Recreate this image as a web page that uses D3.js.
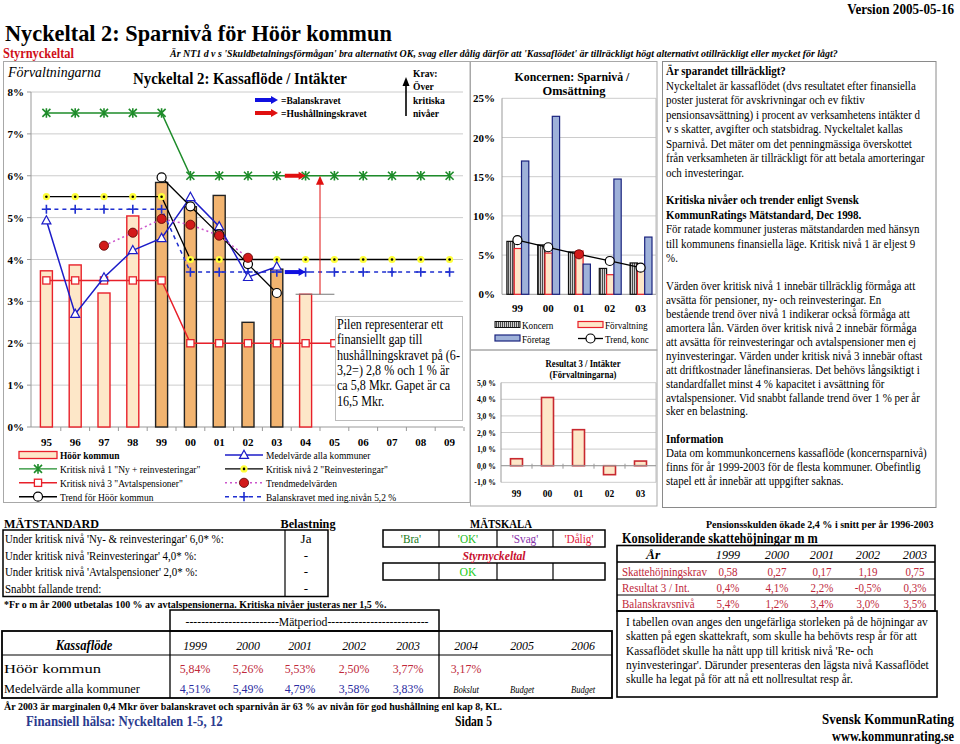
<!DOCTYPE html>
<html><head><meta charset="utf-8">
<script src="https://cdn.jsdelivr.net/npm/d3@7/dist/d3.min.js"></script>
<style>
body{margin:0;background:#fff;}
svg text{font-family:"Liberation Serif","Times New Roman",serif;}
</style></head><body>
<svg id="c" width="960" height="744"></svg>
<script>
// ---------------- DATA ----------------
const years = ["95","96","97","98","99","00","01","02","03","04","05","06","07","08","09"];
const hoorYears = ["95","96","97","98","99","00","01","02","03","04"];
const hoorValues = [3.73,3.87,3.20,5.04,5.84,5.26,5.53,2.50,3.77,3.17];
const hoorMeasuredYears = ["99","00","01","02","03"];
const medelYears = ["95","96","97","98","99","00","01","02","03"];
const medelValues = [4.93,2.70,3.57,4.22,4.51,5.49,4.79,3.58,3.83];
const krit1Values = [7.5,7.5,7.5,7.5,7.5,6,6,6,6,6,6,6,6,6,6];
const krit2Values = [5.5,5.5,5.5,5.5,5.5,4,4,4,4,4,4,4,4,4,4];
const krit3Values = [3.5,3.5,3.5,3.5,3.5,2,2,2,2,2,2,2,2,2,2];
const balansValues = [5.2,5.2,5.2,5.2,5.2,3.7,3.7,3.7,3.7,3.7,3.7,3.7,3.7,3.7,3.7];
const trendMedelYears = ["97","98","99","00","01","02"];
const trendMedelValues = [4.33,4.64,4.97,4.83,4.57,4.04];
const trendHoorYears = ["99","00","01","02","03"];
const trendHoorValues = [5.96,5.27,4.60,3.89,3.20];
const gapTarget = 6.0, gapFrom = 3.17;
const mainYTicks = [0,1,2,3,4,5,6,7,8];

const koncYears = ["99","00","01","02","03"];
const koncernValues = [6.75,6.30,5.40,3.30,4.00];
const forvaltningValues = [5.84,5.26,5.53,2.50,3.77];
const foretagValues = [17.0,22.7,3.85,14.7,7.3];
const trendKoncValues = [6.9,6.0,5.1,4.25,3.4];
const koncYTicks = [0,5,10,15,20,25];

const res3Values = [0.42,4.11,2.17,-0.54,0.28];
const res3YTicks = [-1,0,1,2,3,4,5];

const matstandardRows = ["Under kritisk nivå 'Ny- & reinvesteringar' 6,0* %:","Under kritisk nivå 'Reinvesteringar' 4,0* %:","Under kritisk nivå 'Avtalspensioner' 2,0* %:","Snabbt fallande trend:"];
const belastning = ["Ja","-","-","-"];
const matskala = ["'Bra'","'OK'","'Svag'","'Dålig'"];
const styrResult = ["","OK","",""];

const kassaYears = ["1999","2000","2001","2002","2003","2004","2005","2006"];
const hoorRow = ["5,84%","5,26%","5,53%","2,50%","3,77%","3,17%"];
const medelRow = ["4,51%","5,49%","4,79%","3,58%","3,83%"];
const kassaNotes = ["","","","","","Bokslut","Budget","Budget"];

const skatteYears = ["1999","2000","2001","2002","2003"];
const skattekrav = ["0,58","0,27","0,17","1,19","0,75"];
const res3Int = ["0,4%","4,1%","2,2%","-0,5%","0,3%"];
const balanskravsniva = ["5,4%","1,2%","3,4%","3,0%","3,5%"];

const rightBlocks = [
 {bold:1, lines:["Är sparandet tillräckligt?","Nyckeltalet är kassaflödet (dvs resultatet efter finansiella","poster justerat för avskrivningar och ev fiktiv","pensionsavsättning) i procent av verksamhetens intäkter d","v s skatter, avgifter och statsbidrag. Nyckeltalet kallas","Sparnivå. Det mäter om det penningmässiga överskottet","från verksamheten är tillräckligt för att betala amorteringar","och investeringar."]},
 {bold:2, lines:["Kritiska nivåer och trender enligt Svensk","KommunRatings Mätstandard, Dec 1998.","För ratade kommuner justeras mätstandarden med hänsyn","till kommunens finansiella läge. Kritisk nivå 1 är eljest 9","%."]},
 {bold:0, lines:["Värden över kritisk nivå 1 innebär tillräcklig förmåga att","avsätta för pensioner, ny- och reinvesteringar. En","bestående trend över nivå 1 indikerar också förmåga att","amortera lån. Värden över kritisk nivå 2 innebär förmåga","att avsätta för reinvesteringar och avtalspensioner men ej","nyinvesteringar. Värden under kritisk nivå 3 innebär oftast","att driftkostnader lånefinansieras. Det behövs långsiktigt i","standardfallet minst 4 % kapacitet i avsättning för","avtalspensioner. Vid snabbt fallande trend över 1 % per år","sker en belastning."]},
 {bold:1, lines:["Information","Data om kommunkoncernens kassaflöde (koncernsparnivå)","finns för år 1999-2003 för de flesta kommuner. Obefintlig","stapel ett år innebär att uppgifter saknas."]}
];
const pilenLines = ["Pilen representerar ett","finansiellt gap till","hushållningskravet på (6-","3,2=) 2,8 % och 1  % är","ca 5,8 Mkr. Gapet är ca","16,5 Mkr."];
const skatteNoteLines = ["I tabellen ovan anges den ungefärliga storleken på de höjningar av","skatten på egen skattekraft, som skulle ha behövts resp år för att","Kassaflödet skulle ha nått upp till  kritisk nivå 'Re- och","nyinvesteringar'. Därunder presenteras den lägsta nivå Kassaflödet","skulle ha legat på för att nå ett nollresultat resp år."];

// ---------------- HELPERS ----------------
const svg = d3.select('#c');
const defs = svg.append('defs');
const F = 0.87;
// text is squeezed horizontally with a transform so its box matches what is drawn
function txt(g, x, y, s, o={}){
  const t = g.append('text').attr('x',0).attr('y',0).text(s)
    .attr('font-size', o.size||12)
    .attr('fill', o.fill||'#000')
    .attr('text-anchor', o.anchor||'start');
  if(o.bold) t.attr('font-weight','bold');
  if(o.italic) t.attr('font-style','italic');
  if(o.family) t.attr('font-family', o.family);
  const w = t.node().getComputedTextLength();
  let sx = o.w ? o.w/w : (o.f||F);
  if(o.maxW && w*sx > o.maxW) sx = o.maxW/w;
  t.attr('transform', `translate(${x},${y}) scale(${sx},1)`);
  return t;
}
function natW(g, s, size, bold){
  const t = g.append('text').attr('font-size',size).attr('font-weight',bold?'bold':null).text(s);
  const w = t.node().getComputedTextLength(); t.remove(); return w;
}
function marker(g, type, px, py){
  switch(type){
    case 'ast': g.append('path').attr('d',`M${px-4},${py-4}L${px+4},${py+4}M${px-4},${py+4}L${px+4},${py-4}M${px},${py-4.8}V${py+4.8}`).attr('stroke','#1E8C2A').attr('stroke-width',1.6).attr('fill','none'); break;
    case 'dotY': g.append('circle').attr('cx',px).attr('cy',py).attr('r',3.6).attr('fill','#FFFF3A');
                 g.append('circle').attr('cx',px).attr('cy',py).attr('r',1.3).attr('fill','#000'); break;
    case 'sq': g.append('rect').attr('x',px-3.6).attr('y',py-3.6).attr('width',7.2).attr('height',7.2).attr('fill','#fff').attr('stroke','#E8202A').attr('stroke-width',1.3); break;
    case 'tri': g.append('path').attr('d',`M${px},${py-4.8}L${px+4.5},${py+3.4}L${px-4.5},${py+3.4}Z`).attr('fill','#fff').attr('stroke','#1C1CC8').attr('stroke-width',1.2); break;
    case 'redDot': g.append('circle').attr('cx',px).attr('cy',py).attr('r',4.6).attr('fill','#D21A1A').attr('stroke','#5a0000').attr('stroke-width',0.8); break;
    case 'openC': g.append('circle').attr('cx',px).attr('cy',py).attr('r',4.5).attr('fill','#fff').attr('stroke','#000').attr('stroke-width',1.2); break;
    case 'plus': g.append('path').attr('d',`M${px-4.6},${py}H${px+4.6}M${px},${py-4.6}V${py+4.6}`).attr('stroke','#1F2FD0').attr('stroke-width',1.6); break;
  }
}
function arrowH(g, x1, x2, yy, color, w){
  g.append('line').attr('x1',x1).attr('x2',x2-6).attr('y1',yy).attr('y2',yy).attr('stroke',color).attr('stroke-width',w);
  g.append('path').attr('d',`M${x2-7},${yy-4}L${x2},${yy}L${x2-7},${yy+4}Z`).attr('fill',color);
}
const LIGHT='#FDE7C8', DARK='#F2B470', RED='#E8202A';

// ---------------- HEADER ----------------
txt(svg,5,41,"Nyckeltal 2: Sparnivå för Höör kommun",{size:24,bold:true,w:387});
txt(svg,954,14,"Version 2005-05-16",{size:14,bold:true,anchor:'end',w:107});
txt(svg,3,58,"Styrnyckeltal",{size:14,bold:true,fill:'#D0101A',w:71});
txt(svg,170,57,"Är NT1 d v s 'Skuldbetalningsförmågan' bra alternativt OK, svag eller dålig därför att 'Kassaflödet' är tillräckligt högt alternativt otillräckligt eller mycket för lågt?",{size:10.5,bold:true,italic:true,w:668});

// frames
const frames = svg.append('g').attr('fill','none').attr('stroke','#a8a8a8');
frames.append('rect').attr('x',3.5).attr('y',61.5).attr('width',466.5).attr('height',441);
frames.append('rect').attr('x',470.5).attr('y',61.5).attr('width',186.5).attr('height',288.5);
frames.append('rect').attr('x',470.5).attr('y',350).attr('width',186.5).attr('height',156);
svg.append('rect').attr('x',662.5).attr('y',61.5).attr('width',273.5).attr('height',446).attr('fill','none').attr('stroke','#8a8a8a');

// ---------------- MAIN CHART ----------------
const gm = svg.append('g');
const x = d3.scaleBand().domain(years).range([32,464]);
const cx = d => x(d) + x.bandwidth()/2;
const y = d3.scaleLinear().domain([0,8]).range([427,92]);

txt(gm,8,77,"Förvaltningarna",{size:14,italic:true,family:'"Liberation Sans",Arial,sans-serif',w:93});
txt(gm,133,84,"Nyckeltal 2: Kassaflöde / Intäkter",{size:17,bold:true,w:214});

mainYTicks.forEach(v=>{
  gm.append('line').attr('x1',31).attr('x2',463).attr('y1',y(v)).attr('y2',y(v)).attr('stroke', v===0?'#999':'#cccccc');
  gm.append('line').attr('x1',27).attr('x2',31).attr('y1',y(v)).attr('y2',y(v)).attr('stroke','#999');
  txt(gm,24,y(v)+4,v+"%",{size:11,bold:true,anchor:'end',f:1});
});
gm.append('line').attr('x1',31).attr('x2',31).attr('y1',y(0)).attr('y2',y(8)).attr('stroke','#999');
years.forEach((d,i)=>{
  gm.append('line').attr('x1',x(d)+x.bandwidth()).attr('x2',x(d)+x.bandwidth()).attr('y1',y(0)).attr('y2',y(0)+4).attr('stroke','#999');
  txt(gm,cx(d),446,d,{size:11,bold:true,anchor:'middle',f:1});
});

// bars
const bw = 12;
gm.selectAll('rect.hb').data(hoorYears.map((d,i)=>({yr:d,v:hoorValues[i]}))).join('rect')
  .attr('x',d=>cx(d.yr)-bw/2).attr('width',bw).attr('y',d=>y(d.v)).attr('height',d=>y(0)-y(d.v))
  .attr('fill',d=>hoorMeasuredYears.includes(d.yr)?DARK:LIGHT)
  .attr('stroke',d=>hoorMeasuredYears.includes(d.yr)?'#222':RED).attr('stroke-width',1.4);

const line = d3.line().x(d=>cx(d.yr)).y(d=>y(d.v));
const series = [
  {yrs:years, vals:krit3Values, color:RED, w:1.5, dash:null, m:'sq'},
  {yrs:years, vals:krit2Values, color:'#000', w:1.3, dash:null, m:'dotY'},
  {yrs:years, vals:krit1Values, color:'#1E8C2A', w:1.5, dash:null, m:'ast'},
  {yrs:years, vals:balansValues, color:'#1F2FD0', w:1.5, dash:'4,4', m:'plus'},
  {yrs:medelYears, vals:medelValues, color:'#1C1CC8', w:1.5, dash:null, m:'tri'},
  {yrs:trendHoorYears, vals:trendHoorValues, color:'#000', w:1.3, dash:null, m:'openC'},
  {yrs:trendMedelYears, vals:trendMedelValues, color:'#CC55CC', w:1.5, dash:'2,3', m:'redDot'}
];
series.forEach(s=>{
  const pts = s.yrs.map((d,i)=>({yr:d,v:s.vals[i]}));
  gm.append('path').attr('d',line(pts)).attr('fill','none').attr('stroke',s.color).attr('stroke-width',s.w).attr('stroke-dasharray',s.dash);
  pts.forEach(p=>marker(gm,s.m,cx(p.yr),y(p.v)));
});

// annotations
arrowH(gm, cx("03")+8, cx("04"), y(krit1Values[9]), '#E01010', 4);
arrowH(gm, cx("03")+8, cx("04"), y(balansValues[9]), '#1010E0', 4);
const gx = x("04")+x.bandwidth();
gm.append('line').attr('x1',cx("04")-10).attr('x2',cx("05")).attr('y1',y(gapFrom)).attr('y2',y(gapFrom)).attr('stroke','#777').attr('stroke-width',1.2);
gm.append('line').attr('x1',gx).attr('x2',gx).attr('y1',y(gapFrom)).attr('y2',y(gapTarget)+8).attr('stroke','#E01010').attr('stroke-width',1);
gm.append('path').attr('d',`M${gx-4},${y(gapTarget)+9}L${gx},${y(gapTarget)}L${gx+4},${y(gapTarget)+9}Z`).attr('fill','#E01010');

// top legend arrows
arrowH(gm,255,278,100,'#1010E0',4);
arrowH(gm,255,278,113,'#E01010',4);
txt(gm,281,104,"=Balanskravet",{size:11,bold:true});
txt(gm,281,117,"=Hushållningskravet",{size:11,bold:true});
// Krav
gm.append('line').attr('x1',406).attr('x2',406).attr('y1',116).attr('y2',84).attr('stroke','#000').attr('stroke-width',1.6);
gm.append('path').attr('d','M402.5,86L406,77L409.5,86Z').attr('fill','#000');
["Krav:","Över","kritiska","nivåer"].forEach((s,i)=>txt(gm,413,77+i*13.3,s,{size:11,bold:true}));

// Pilen box
gm.append('rect').attr('x',335.5).attr('y',316.5).attr('width',127).attr('height',104).attr('fill','#fff').attr('stroke','#bbb');
{
  const wmax = natW(gm,"hushållningskravet på (6-",14,false);
  const f = 123/wmax;
  pilenLines.forEach((s,i)=>txt(gm,337,329+i*15.3,s,{size:14,f:f}));
}

// bottom legend
const legItems = [
  {col:0,row:0,label:"Höör kommun",bold:true,type:'bar'},
  {col:1,row:0,label:"Medelvärde alla kommuner",color:'#1C1CC8',m:'tri'},
  {col:0,row:1,label:"Kritisk nivå 1 \"Ny + reinvesteringar\"",color:'#1E8C2A',m:'ast'},
  {col:1,row:1,label:"Kritisk nivå 2 \"Reinvesteringar\"",color:'#000',m:'dotY'},
  {col:0,row:2,label:"Kritisk nivå 3 \"Avtalspensioner\"",color:RED,m:'sq'},
  {col:1,row:2,label:"Trendmedelvärden",color:'#CC55CC',dash:'2,3',m:'redDot'},
  {col:0,row:3,label:"Trend för Höör kommun",color:'#000',m:'openC'},
  {col:1,row:3,label:"Balanskravet med ing.nivån 5,2 %",color:'#1F2FD0',dash:'4,4',m:'plus'}
];
legItems.forEach(it=>{
  const x0 = it.col===0?19:225, yy = 455+it.row*13.9;
  if(it.type==='bar'){
    gm.append('rect').attr('x',x0).attr('y',yy-3.5).attr('width',38).attr('height',7).attr('fill',LIGHT).attr('stroke',RED).attr('stroke-width',1.3);
  } else {
    gm.append('line').attr('x1',x0).attr('x2',x0+38).attr('y1',yy).attr('y2',yy).attr('stroke',it.color).attr('stroke-width',1.4).attr('stroke-dasharray',it.dash||null);
    marker(gm,it.m,x0+19,yy);
  }
  txt(gm,x0+41,yy+3.8,it.label,{size:11,bold:it.bold,f:0.86});
});

// ---------------- KONCERN CHART ----------------
const gk = svg.append('g');
const xk = d3.scaleBand().domain(koncYears).range([502,656]);
const ck = d => xk(d)+xk.bandwidth()/2;
const yk = d3.scaleLinear().domain([0,25]).range([294.3,98.3]);
txt(gk,572,81,"Koncernen: Sparnivå /",{size:13,bold:true,anchor:'middle',w:115});
txt(gk,574,95,"Omsättning",{size:13,bold:true,anchor:'middle',w:63});
koncYTicks.forEach(v=>{
  gk.append('line').attr('x1',502).attr('x2',656).attr('y1',yk(v)).attr('y2',yk(v)).attr('stroke',v===0?'#999':'#cccccc');
  txt(gk,495,yk(v)+4,v+"%",{size:11,bold:true,anchor:'end',f:1});
});
gk.append('line').attr('x1',502).attr('x2',502).attr('y1',yk(0)).attr('y2',yk(25)).attr('stroke','#999');
gk.append('line').attr('x1',656).attr('x2',656).attr('y1',yk(0)).attr('y2',yk(25)).attr('stroke','#bbb');
const pat = defs.append('pattern').attr('id','stripe').attr('patternUnits','userSpaceOnUse').attr('width',2).attr('height',4);
pat.append('rect').attr('width',2).attr('height',4).attr('fill','#cfcfcf');
pat.append('rect').attr('width',1).attr('height',4).attr('fill','#4a4a4a');
const kb = 7.3;
const koncSeries = [
  {vals:koncernValues, fill:'url(#stripe)', stroke:'#111'},
  {vals:forvaltningValues, fill:LIGHT, stroke:RED},
  {vals:foretagValues, fill:'#9EB1D9', stroke:'#1A237E'}
];
koncSeries.forEach((s,si)=>{
  gk.selectAll(null).data(koncYears.map((d,i)=>({yr:d,v:s.vals[i]}))).join('rect')
    .attr('x',d=>ck(d.yr)-10.5+si*kb).attr('width',kb).attr('y',d=>yk(d.v)).attr('height',d=>yk(0)-yk(d.v))
    .attr('fill',s.fill).attr('stroke',s.stroke).attr('stroke-width',1.2);
});
koncYears.forEach(d=>txt(gk,ck(d),312,d,{size:11,bold:true,anchor:'middle',f:1}));
const tk = koncYears.map((d,i)=>({yr:d,v:trendKoncValues[i]}));
gk.append('path').attr('d',d3.line().x(d=>ck(d.yr)).y(d=>yk(d.v))(tk)).attr('fill','none').attr('stroke','#000').attr('stroke-width',1.3);
tk.forEach(p=>{ if(p.yr==="01") marker(gk,'redDot',ck(p.yr),yk(p.v)); else marker(gk,'openC',ck(p.yr),yk(p.v)); });
// legend
gk.append('rect').attr('x',495).attr('y',321.5).attr('width',25).attr('height',6).attr('fill','url(#stripe)').attr('stroke','#111');
txt(gk,522,329,"Koncern",{size:10.5});
gk.append('rect').attr('x',578).attr('y',321.5).attr('width',25).attr('height',6).attr('fill',LIGHT).attr('stroke',RED).attr('stroke-width',1.2);
txt(gk,605,329,"Förvaltning",{size:10.5});
gk.append('rect').attr('x',495).attr('y',335).attr('width',25).attr('height',6).attr('fill','#9EB1D9').attr('stroke','#1A237E').attr('stroke-width',1.2);
txt(gk,522,343,"Företag",{size:10.5});
gk.append('line').attr('x1',578).attr('x2',603).attr('y1',338.5).attr('y2',338.5).attr('stroke','#000').attr('stroke-width',1.3);
marker(gk,'openC',590.5,338.5);
txt(gk,605,343,"Trend, konc",{size:10.5});

// ---------------- RESULTAT 3 CHART ----------------
const gr = svg.append('g');
const xr = d3.scaleBand().domain(koncYears).range([501,656]);
const cr = d => xr(d)+xr.bandwidth()/2;
const yr = d3.scaleLinear().domain([-1,5]).range([482.3,382.7]);
txt(gr,583,367,"Resultat 3 / Intäkter",{size:10,bold:true,anchor:'middle',w:75});
txt(gr,583,378,"(Förvaltningarna)",{size:10,bold:true,anchor:'middle',w:67});
const fmt1 = v => d3.format(".1f")(v).replace('.',',').replace('−','-')+" %";
res3YTicks.forEach(v=>{
  gr.append('line').attr('x1',501).attr('x2',656).attr('y1',yr(v)).attr('y2',yr(v)).attr('stroke','#cccccc');
  txt(gr,496,yr(v)+3,fmt1(v),{size:8.5,bold:true,anchor:'end',f:0.9});
});
gr.append('line').attr('x1',501).attr('x2',501).attr('y1',yr(-1)).attr('y2',yr(5)).attr('stroke','#999');
gr.append('line').attr('x1',656).attr('x2',656).attr('y1',yr(-1)).attr('y2',yr(5)).attr('stroke','#bbb');
gr.selectAll(null).data(koncYears.map((d,i)=>({yr:d,v:res3Values[i]}))).join('rect')
  .attr('x',d=>cr(d.yr)-6).attr('width',12).attr('y',d=>yr(Math.max(0,d.v))).attr('height',d=>Math.abs(yr(d.v)-yr(0)))
  .attr('fill',LIGHT).attr('stroke','#C8282F').attr('stroke-width',1.6);
gr.append('line').attr('x1',501).attr('x2',656).attr('y1',yr(0)).attr('y2',yr(0)).attr('stroke','#999');
koncYears.forEach((d,i)=>{
  if(i>0) gr.append('line').attr('x1',xr(d)).attr('x2',xr(d)).attr('y1',yr(0)-2).attr('y2',yr(0)+3).attr('stroke','#999');
  txt(gr,cr(d),497,d,{size:9.5,bold:true,anchor:'middle',f:1});
});

// ---------------- RIGHT TEXT BOX ----------------
const gt = svg.append('g');
{
  const fs = 12.5;
  const f = 259 / natW(gt,"från verksamheten är tillräckligt för att betala amorteringar",fs,false);
  const starts = [71,200,286,439], dys = [14.5,14.5,13.9,14];
  rightBlocks.forEach((b,bi)=>{
    b.lines.forEach((s,i)=>txt(gt,666,starts[bi]+i*dys[bi]+4.3,s,{size:fs,bold:i<b.bold,f:f,maxW:264}));
  });
}

// ---------------- BOTTOM LEFT ----------------
const gb = svg.append('g');
txt(gb,4,528,"MÄTSTANDARD",{size:13,bold:true,w:95});
txt(gb,308,528,"Belastning",{size:13,bold:true,anchor:'middle',w:55});
gb.append('rect').attr('x',3).attr('y',530).attr('width',325).attr('height',66.5).attr('fill','none').attr('stroke','#000').attr('stroke-width',1.5);
gb.append('line').attr('x1',285).attr('x2',285).attr('y1',530).attr('y2',596.5).attr('stroke','#000').attr('stroke-width',1.2);
{
  const f = 219 / natW(gb,matstandardRows[0],13,false);
  matstandardRows.forEach((s,i)=>{
    txt(gb,5,543+i*16.5,s,{size:13,f:f});
    txt(gb,306,543+i*16.5,belastning[i],{size:13,anchor:'middle',f:1});
  });
}
txt(gb,4,608,"*Fr o m år 2000 utbetalas 100 % av avtalspensionerna. Kritiska nivåer justeras ner 1,5 %.",{size:9.5,bold:true,w:383});

// Mätskala
txt(gb,501,528,"MÄTSKALA",{size:13,bold:true,anchor:'middle',w:62});
const cellX = [383,439,497,553,605];
const skalaColors = ['#1A7A1A','#22BB22','#8833AA','#E0203A'];
[[530,547],[563,580]].forEach(([y1,y2])=>{
  gb.append('rect').attr('x',cellX[0]).attr('y',y1).attr('width',cellX[4]-cellX[0]).attr('height',y2-y1).attr('fill','none').attr('stroke','#000').attr('stroke-width',1.5);
  cellX.slice(1,4).forEach(cx0=>gb.append('line').attr('x1',cx0).attr('x2',cx0).attr('y1',y1).attr('y2',y2).attr('stroke','#000').attr('stroke-width',1.2));
});
matskala.forEach((s,i)=>txt(gb,(cellX[i]+cellX[i+1])/2,543,s,{size:12.5,anchor:'middle',fill:skalaColors[i],f:0.9}));
txt(gb,494,559.5,"Styrnyckeltal",{size:13,bold:true,italic:true,anchor:'middle',fill:'#C8102E',f:0.9});
styrResult.forEach((s,i)=>{ if(s) txt(gb,(cellX[i]+cellX[i+1])/2,576,s,{size:13,anchor:'middle',fill:'#22CC22',f:0.9}); });

// Kassaflöde table
gb.append('rect').attr('x',170).attr('y',610).attr('width',269).attr('height',21).attr('fill','none').attr('stroke','#000').attr('stroke-width',1.5);
txt(gb,307,626,"------------------------Mätperiod--------------------------",{size:12,anchor:'middle',w:243});
gb.append('rect').attr('x',2).attr('y',631).attr('width',610).attr('height',67).attr('fill','none').attr('stroke','#000').attr('stroke-width',1.8);
gb.append('line').attr('x1',2).attr('x2',612).attr('y1',655).attr('y2',655).attr('stroke','#000').attr('stroke-width',1.2);
[170,439].forEach(xx=>gb.append('line').attr('x1',xx).attr('x2',xx).attr('y1',631).attr('y2',698).attr('stroke','#000').attr('stroke-width',1.3));
const colX = [195,248,300,354,408,466,522,583];
txt(gb,84,650,"Kassaflöde",{size:14,bold:true,italic:true,anchor:'middle',f:0.9});
kassaYears.forEach((s,i)=>txt(gb,colX[i],650,s,{size:13.5,italic:true,anchor:'middle',f:0.88}));
txt(gb,4,673,"Höör kommun",{size:13.5,w:97});
hoorRow.forEach((s,i)=>txt(gb,colX[i],673,s,{size:13.5,anchor:'middle',fill:'#C0283A',f:0.88}));
txt(gb,4,693,"Medelvärde alla kommuner",{size:13.5,w:136});
medelRow.forEach((s,i)=>txt(gb,colX[i],693,s,{size:13.5,anchor:'middle',fill:'#2A2AA0',f:0.88}));
kassaNotes.forEach((s,i)=>{ if(s) txt(gb,colX[i],693,s,{size:9.5,italic:true,anchor:'middle',f:0.9}); });
txt(gb,4,710,"År 2003 är marginalen 0,4 Mkr över balanskravet och sparnivån är 63 % av nivån för god hushållning enl kap 8, KL.",{size:9.5,bold:true,w:499});
txt(gb,26,726,"Finansiell hälsa: Nyckeltalen 1-5, 12",{size:14,bold:true,fill:'#2B3A8E',w:197});
txt(gb,455,726,"Sidan 5",{size:14,bold:true,w:37});

// ---------------- BOTTOM RIGHT ----------------
const gs = svg.append('g');
txt(gs,706,528,"Pensionsskulden ökade  2,4 % i snitt per år 1996-2003",{size:10,bold:true,w:228});
txt(gs,622,543,"Konsoliderande skattehöjningar m m",{size:14.5,bold:true,w:196});
gs.append('rect').attr('x',617).attr('y',545.5).attr('width',318).attr('height',65.5).attr('fill','none').attr('stroke','#000').attr('stroke-width',1.6);
[562,579,595].forEach(yy=>gs.append('line').attr('x1',617).attr('x2',935).attr('y1',yy).attr('y2',yy).attr('stroke','#000').attr('stroke-width',yy===562?1.4:1));
const sX = [728,777,822,868,915];
txt(gs,653,559,"År",{size:13.5,bold:true,italic:true,anchor:'middle',f:1});
skatteYears.forEach((s,i)=>txt(gs,sX[i],559,s,{size:13.5,italic:true,anchor:'middle',f:0.9}));
const sRows = [["Skattehöjningskrav",skattekrav],["Resultat 3 / Int.",res3Int],["Balanskravsnivå",balanskravsniva]];
sRows.forEach((r,ri)=>{
  const yy = 576+ri*15.8;
  txt(gs,622,yy,r[0],{size:12.5,fill:'#C0283A',f:0.88});
  r[1].forEach((s,i)=>txt(gs,sX[i],yy,s,{size:12.5,anchor:'middle',fill:'#C0283A',f:0.88}));
});
gs.append('rect').attr('x',617).attr('y',611).attr('width',320).attr('height',86).attr('fill','none').attr('stroke','#000').attr('stroke-width',1.6);
{
  const f = 302 / natW(gs,skatteNoteLines[0],12.5,false);
  skatteNoteLines.forEach((s,i)=>txt(gs,626,626+i*14.3,s,{size:12.5,f:f}));
}
txt(gs,954,724,"Svensk KommunRating",{size:14.5,bold:true,anchor:'end',w:132});
txt(gs,954,741,"www.kommunrating.se",{size:14.5,bold:true,anchor:'end',w:122});
</script>
</body></html>
